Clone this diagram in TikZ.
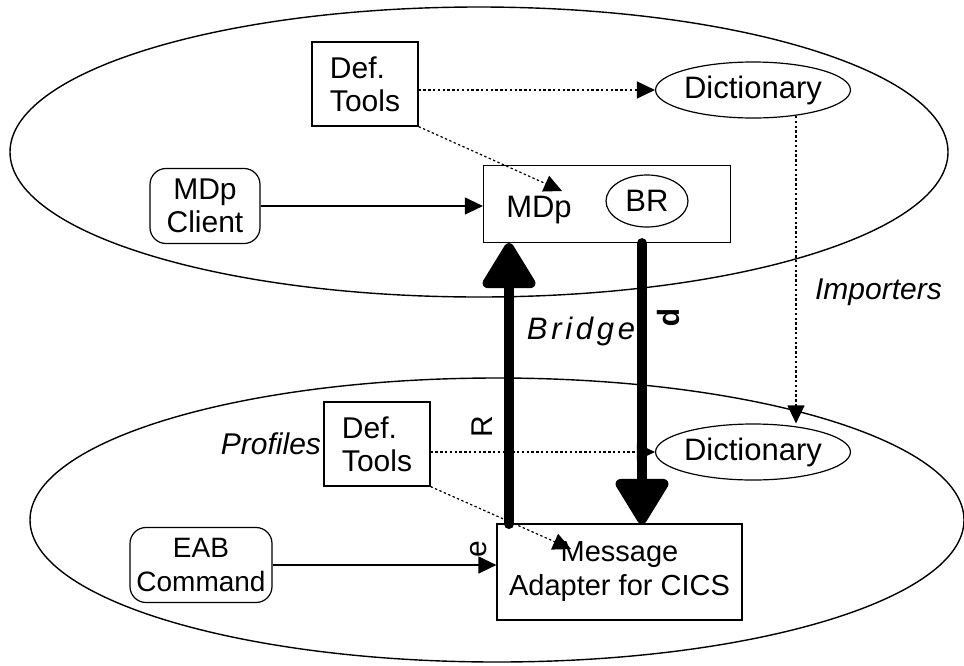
\documentclass[tikz,border=0pt]{standalone}
\usepackage{fontspec}
\setmainfont{Liberation Sans}
\usetikzlibrary{shapes,arrows.meta}

\begin{document}
\begin{tikzpicture}[x=0.5pt, y=-0.5pt]
            \tikzstyle{tool} = [draw, line width=0.6pt, align=left, inner sep=0pt, minimum width=53pt, minimum height=42pt, font=\fontsize{15}{16.5}\selectfont]
            \tikzstyle{client} = [draw, line width=0.6pt, rounded corners=8pt, align=center, inner sep=0pt, font=\fontsize{15}{16.5}\selectfont]
            \tikzstyle{dict} = [ellipse, draw, line width=0.6pt, inner sep=0pt, minimum width=86pt, minimum height=28pt, font=\fontsize{15.5}{17}\selectfont]
            \tikzstyle{flow} = [-{Triangle[length=9pt, width=8.5pt]}, line width=0.6pt]
            \tikzstyle{dotflow} = [-{Triangle[length=9pt, width=8.5pt]}, line width=0.6pt, dash pattern=on 1.2pt off 1.2pt]
            \tikzstyle{bigflow} = [-{Triangle[length=25pt, width=29pt, round]}, line width=5pt, line cap=round]
            \tikzstyle{label} = [font=\fontsize{15}{17}\selectfont\itshape]
            \useasboundingbox (0, 0) rectangle (964, 665);

            % the two levels
            \draw[line width=0.7pt] (479, 152) ellipse [x radius=234.5pt, y radius=72.5pt];
            \draw[line width=0.7pt] (497, 520) ellipse [x radius=233.5pt, y radius=71pt];

            % upper level
            \node[tool] (deftop) at (365, 84) {Def.\\Tools};
            \node[dict] (dicttop) at (753, 90) {Dictionary};
            \node[client, minimum width=55pt, minimum height=37.5pt] (mdpclient) at (205, 206) {MDp\\Client};
            \node[draw, line width=0.6pt, minimum width=123.5pt, minimum height=38.5pt] (mdp) at (607, 204) {};
            \node[font=\fontsize{15.5}{17}\selectfont, inner sep=0pt] (mdptext) at (539, 210) {MDp};
            \node[ellipse, draw, line width=0.6pt, inner sep=0pt, minimum width=41pt, minimum height=26pt, font=\fontsize{15.5}{17}\selectfont] (br) at (647, 201) {BR};

            % lower level
            \node[tool] (defbot) at (377, 444) {Def.\\Tools};
            \node[label, anchor=east, inner sep=1pt] (profiles) at (defbot.west) {Profiles};
            \node[dict] (dictbot) at (753, 452) {Dictionary};
            \node[client, minimum width=71pt, minimum height=37.5pt, font=\fontsize{14}{17}\selectfont] (eab) at (201, 565) {EAB\\Command};
            \node[draw, line width=0.6pt, align=center, minimum width=122.5pt, minimum height=48pt, font=\fontsize{14.5}{17}\selectfont] (msg) at (619.5, 572) {Message\\Adapter for CICS};

            % free ends
            \coordinate (mdptip) at (562, 191);
            \coordinate (msgtip) at (571, 549);
            \coordinate (imp) at (796, 116);
            \coordinate (reqfoot) at (509, 524);
            \coordinate (repfoot) at (642, 524);

            \draw[flow] (mdpclient) -- (mdpclient -| mdp.west);
            \draw[flow] (eab) -- (eab -| msg.west);
            \draw[dotflow] (deftop.east |- dicttop) -- (dicttop);
            \draw[dotflow] (deftop.south east) -- (mdptip);
            \draw[dotflow] (defbot.east |- dictbot) -- (dictbot);
            \draw[dotflow] (defbot.south east) -- (msgtip);
            \draw[dotflow] (imp) -- (imp |- dictbot.north);
            \node[label, anchor=west] (importers) at (808, 292) {Importers};

            % bridge
            \draw[bigflow] (reqfoot) -- (reqfoot |- mdp.south);
            \draw[bigflow] (repfoot |- mdp.south) -- (repfoot);
            \node[label, font=\fontsize{15.5}{17}\selectfont\itshape\addfontfeature{LetterSpace=12}] (bridge) at (581, 331) {Bridge};
            \node[rotate=90, font=\fontsize{15}{17}\selectfont] (rq) at (482, 427) {R};
            \node[rotate=90, font=\fontsize{15}{17}\selectfont] (rqe) at (479, 549) {e};
            \node[rotate=-90, font=\fontsize{15}{17}\selectfont\bfseries] (rp) at (668, 318) {p};
\end{tikzpicture}
\end{document}
